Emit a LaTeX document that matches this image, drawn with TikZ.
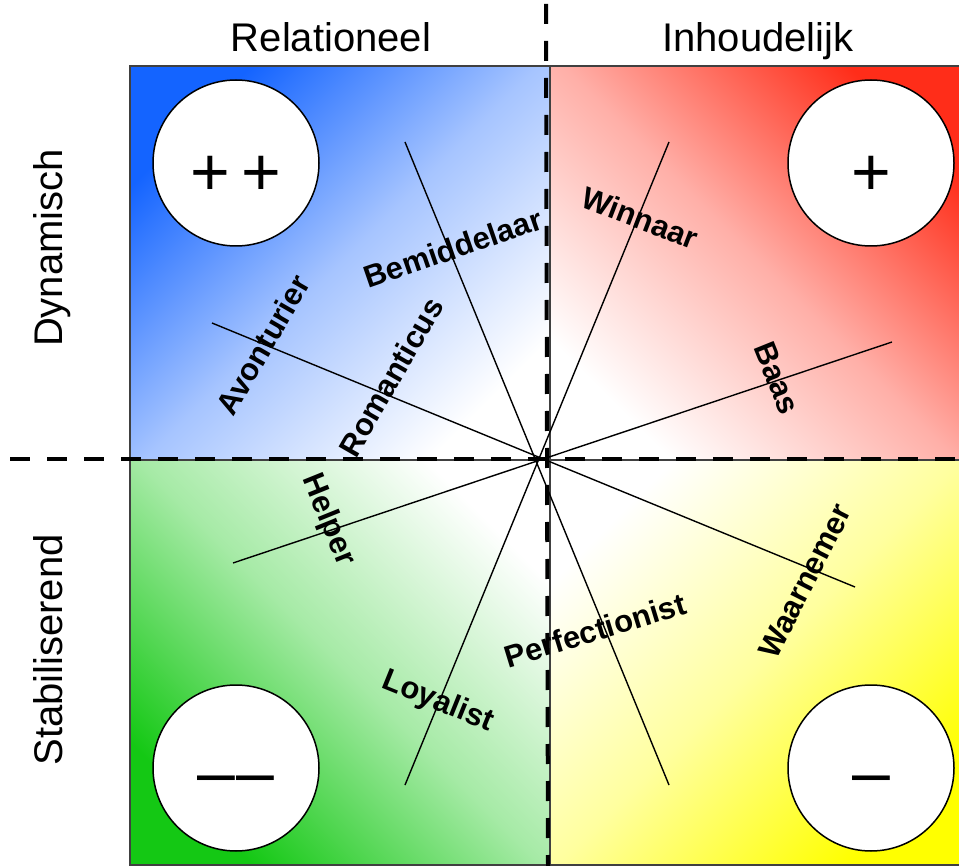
\documentclass[tikz,border=0pt]{standalone}
\usepackage{fontspec}
\setmainfont{Liberation Sans}
\definecolor{qblue}{RGB}{20,100,255}
\definecolor{qred}{RGB}{255,45,25}
\definecolor{qgreen}{RGB}{20,200,20}
\definecolor{qyellow}{RGB}{255,255,0}
\tikzset{
  axis label/.style={font=\fontsize{40}{48}\selectfont, anchor=base},
  role/.style={font=\bfseries\fontsize{31}{37}\selectfont, inner sep=0pt},
  badge/.style={circle, draw, fill=white, line width=1.5pt, minimum size=166pt, inner sep=0pt},
  sign/.style={font=\fontsize{68}{80}\selectfont, anchor=base, inner sep=0pt},
  quadrant/.style={draw=black!75, line width=1.5pt},
  spoke/.style={line width=1.4pt},
  divider/.style={line width=4pt, dash pattern=on 20pt off 17pt}
}
\begin{document}
\begin{tikzpicture}[x=1pt,y=-1pt]
  \useasboundingbox (0,0) rectangle (959,866);
  % quadrants
  \begin{scope}
    \clip (0,0) rectangle (959,866);
    \draw[quadrant, top color=qblue, bottom color=white, middle color=qblue!38!white, shading angle=45] (130,66) rectangle (550,460);
    \draw[quadrant, top color=qred, bottom color=white, middle color=qred!38!white, shading angle=-45] (550,66) rectangle (970,460);
    \draw[quadrant, top color=qgreen, bottom color=white, middle color=qgreen!38!white, shading angle=135] (130,460) rectangle (550,865);
    \draw[quadrant, top color=qyellow, bottom color=white, middle color=qyellow!38!white, shading angle=-135] (550,460) rectangle (970,865);
  \end{scope}
  % headings
  \node[axis label] (rel) at (331,52) {Relationeel};
  \node[axis label] (inh) at (758,52) {Inhoudelijk};
  \node[axis label, rotate=90] (dyn) at (62,248) {Dynamisch};
  \node[axis label, rotate=90] (stab) at (62,650) {Stabiliserend};
  % badges
  \node[badge] (pp) at (236,163) {};
  \node[badge] (p) at (871,163) {};
  \node[badge] (mm) at (236,768) {};
  \node[badge] (m) at (871,768) {};
  \node[sign] (pp sign) at ([yshift=-33pt]pp.center) {+\hspace{12pt}+};
  \node[sign] (p sign) at ([yshift=-33pt]p.center) {+};
  \node[sign] (mm sign) at ([yshift=-27pt]mm.center) {–\hspace{2pt}–};
  \node[sign] (m sign) at ([yshift=-27pt]m.center) {–};
  % spokes
  \coordinate (bem) at (405,142);
  \coordinate (win) at (669,142);
  \coordinate (avo) at (212,323);
  \coordinate (baas) at (892,342);
  \coordinate (hel) at (233,563);
  \coordinate (loy) at (405,785);
  \coordinate (perf) at (669,785);
  \coordinate (waar) at (855,587);
  \draw[spoke] (bem) -- (perf);
  \draw[spoke] (win) -- (loy);
  \draw[spoke] (avo) -- (waar);
  \draw[spoke] (baas) -- (hel);
  % roles
  \node[role, rotate=19] (bemiddelaar) at (453,248) {Bemiddelaar};
  \node[role, rotate=60] (avonturier) at (263,345) {Avonturier};
  \node[role, rotate=60] (romanticus) at (391,377) {Romanticus};
  \node[role, rotate=-21] (winnaar) at (640,218) {Winnaar};
  \node[role, rotate=-68] (baas label) at (777,378) {Baas};
  \node[role, rotate=-68] (helper) at (328,520) {Helper};
  \node[role, rotate=-22] (loyalist) at (438,702) {Loyalist};
  \node[role, rotate=17] (perfectionist) at (595,630) {Perfectionist};
  \node[role, rotate=63] (waarnemer) at (805,581) {Waarnemer};
  % dividers
  \coordinate (div top) at (546,4);
  \coordinate (div bottom) at (548,866);
  \coordinate (div left) at (10,459);
  \coordinate (div right) at (959,459);
  \draw[divider] (div left) -- (div right);
  \draw[divider] (div top) -- (div bottom);
\end{tikzpicture}
\end{document}
